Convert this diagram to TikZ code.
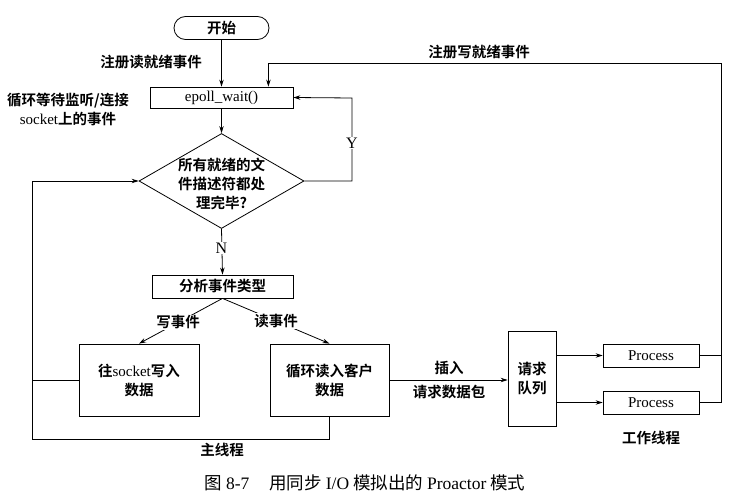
\documentclass[tikz,border=0pt]{standalone}
\usepackage{fontspec}
\setmainfont{Liberation Serif}
\newfontfamily\cjk{Noto Sans CJK SC}[BoldFont={* Bold}]
\newfontfamily\lat{Liberation Serif}
\usetikzlibrary{shapes.geometric,arrows.meta,calc}
\tikzset{
  base/.style={font=\cjk\bfseries\fontsize{14.5}{19}\selectfont},
  box/.style={draw, line width=0.8pt, inner sep=1pt, align=center},
  arr/.style={-{Stealth[length=7pt,width=4.5pt]}},
  lbl/.style={fill=white, inner sep=1pt, align=center},
  ln/.style={line width=0.8pt}
}
\begin{document}
\begin{tikzpicture}[x=1pt,y=-1pt,base]
\useasboundingbox (0,0) rectangle (736,495);
% nodes
\node[box, rounded corners=11.5pt, minimum width=95pt, minimum height=23pt] (start) at (221.5,28) {开始};
\node[box, minimum width=143pt, minimum height=21pt] (ep) at (221.5,97.5) {\lat\mdseries\fontsize{15}{18}\selectfont epoll\_wait()};
\node[draw, ln, diamond, minimum width=165pt, minimum height=95pt, inner sep=0pt] (dia) at (221.5,181) {};
\node[align=center, inner sep=0pt] (diat) at (221.5,184) {所有就绪的文\\件描述符都处\\理完毕?};
\node[box, minimum width=141pt, minimum height=23pt] (fx) at (222.5,286.5) {分析事件类型};
\node[box, minimum width=120pt, minimum height=72pt] (wr) at (139,380) {往{\lat\mdseries\fontsize{15}{18}\selectfont socket}写入\\数据};
\node[box, minimum width=119pt, minimum height=72pt] (rd) at (329.5,380) {循环读入客户\\数据};
\node[box, minimum width=48pt, minimum height=95pt] (q) at (532,378.5) {请求\\队列};
\node[box, minimum width=96pt, minimum height=23pt] (p1) at (651,355.5) {\lat\mdseries\fontsize{15}{18}\selectfont Process};
\node[box, minimum width=96pt, minimum height=23pt] (p2) at (651,402.5) {\lat\mdseries\fontsize{15}{18}\selectfont Process};
\coordinate (rc) at (721,63);
\coordinate (bl) at (32,439);
\coordinate (yc) at (352,98);
% free labels
\node (l1) at (151,62) {注册读就绪事件};
\node (l2) at (479,52) {注册写就绪事件};
\node[align=center] (l3) at (68,109) {循环等待监听/连接\\{\lat\mdseries\fontsize{15}{18}\selectfont socket}上的事件};
\node (l4) at (222,450) {主线程};
\node (l5) at (651,438) {工作线程};
\node (l6) at (449,368) {插入};
\node (l7) at (449,392) {请求数据包};
\node[font=\cjk\fontsize{17.5}{20}\selectfont] (cap) at (365,483) {图 {\lat 8-7}\hspace{20pt}用同步 {\lat I/O} 模拟出的 {\lat Proactor} 模式};
% connectors
\draw[ln,arr] (start) -- (ep);
\draw[ln,arr] (ep) -- (dia.north);
\draw[ln,arr] (dia.east) -| (yc) -- (ep.east);
\node[lbl, font=\lat\fontsize{16}{18}\selectfont] (ylab) at (352,143) {Y};
\draw[ln,arr] (dia.south) -- (fx.north);
\node[lbl, font=\lat\fontsize{16}{18}\selectfont] (nlab) at (221.5,248) {N};
\draw[ln,arr] (fx.south) -- node[lbl, pos=0.53] (we) {写事件} (wr.north);
\draw[ln,arr] (fx.south) -- node[lbl, pos=0.5] (re) {读事件} (rd.north);
\draw[ln,arr] (rd.south) |- (bl) |- (dia.west);
\draw[ln] (wr.west) -- (wr.west -| bl);
\draw[ln,arr] (rd.east) -- (q.west |- rd.east);
\draw[ln,arr] (q.east |- p1.west) -- (p1.west);
\draw[ln,arr] (q.east |- p2.west) -- (p2.west);
\draw[ln] (p1.east) -- (p1.east -| rc);
\draw[ln,arr] (p2.east) -| (rc) -| ([xshift=-25pt]ep.north east);
\end{tikzpicture}
\end{document}
